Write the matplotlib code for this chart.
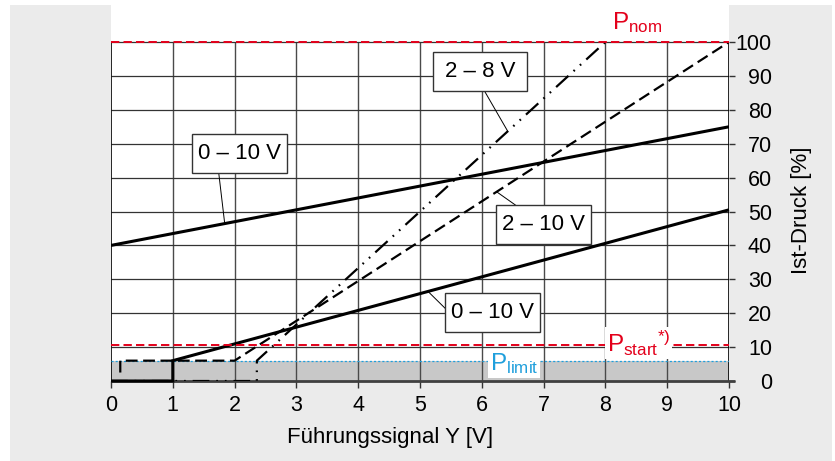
import matplotlib
matplotlib.use('Agg')  # no display available
import matplotlib.pyplot as plt
from matplotlib.patches import Rectangle
import numpy as np

plt.rcParams['font.family'] = 'Liberation Sans'
plt.rcParams['mathtext.fontset'] = 'custom'
plt.rcParams['mathtext.rm'] = 'Liberation Sans'
plt.rcParams['mathtext.it'] = 'Liberation Sans:italic'
plt.rcParams['lines.scale_dashes'] = False

# Kennlinien: Führungssignal Y [V] -> Ist-Druck [%]
y_0_10_upper = [0, 10]
p_0_10_upper = [40, 75]
y_0_10_lower = [0, 1, 1, 10]
p_0_10_lower = [0, 0, 6, 50.5]
y_2_10 = [0.15, 0.15, 2, 10]
p_2_10 = [2.5, 6, 6, 100]
y_2_8 = [0, 2.36, 2.36, 8]
p_2_8 = [0, 0, 6, 100]

# reference pressure levels [%]
P_NOM = 100
P_START = 10.6
P_LIMIT = 6

x_ticks = list(range(0, 11))
p_ticks = list(range(0, 101, 10))

RED = '#e3001b'
BLUE = '#1f9fdc'

fig = plt.figure(figsize=(8.35, 4.61), dpi=100, facecolor='white')
fig.add_artist(Rectangle((10 / 835, 0), 822 / 835, 456 / 461, transform=fig.transFigure,
                         facecolor='#ebebeb', edgecolor='none', zorder=-1))
ax = fig.add_axes([111 / 835, 80 / 461, 618 / 835, 381 / 461])
ax.set_xlim(0, 10)
ax.set_ylim(0, 112.4)
for s in ax.spines.values():
    s.set_visible(False)

# ticks: x below, pressure scale on the right
ax.set_xticks(x_ticks)
ax.set_yticks(p_ticks)
ax.yaxis.tick_right()
ax.tick_params(axis='x', direction='out', length=5, width=1, color='#333333',
               labelsize=15.5, pad=5)
ax.tick_params(axis='y', direction='out', length=4.3, width=1, color='#333333',
               labelsize=15.5, pad=26.6)
for lbl in ax.get_yticklabels():
    lbl.set_horizontalalignment('right')

# grid + frame
ax.fill_between([0, 10], 0, P_LIMIT, color='#c8c8c8', lw=0, zorder=1)
ax.vlines(x_ticks[1:-1], 0, 100, color='#4a4a4a', lw=1.0, zorder=2)
ax.hlines(p_ticks[1:], 0, 10, color='#333333', lw=0.9, zorder=2)
ax.vlines([0, 10], 0, 100, color='black', lw=1.2, zorder=3)
ax.hlines(0, 0, 10.1, color='#404040', lw=2, zorder=3, clip_on=False)

# pressure limits
ax.hlines(P_LIMIT, 0, 10, color=BLUE, lw=0.9, linestyles=(0, (1.5, 1.5)), zorder=3)
ax.hlines([P_NOM, P_START], 0, 10, color=RED, lw=1.4, linestyles=(0, (6, 3)), zorder=6)

# characteristic curves
ax.plot(y_0_10_upper, p_0_10_upper, color='black', lw=2.2, solid_capstyle='butt', zorder=5)
ax.plot(y_0_10_lower, p_0_10_lower, color='black', lw=2.2, solid_capstyle='butt',
        solid_joinstyle='miter', zorder=5, clip_on=False)
ax.plot(y_2_10, p_2_10, color='black', lw=1.6, dashes=(8.5, 4), zorder=5)
ax.plot(y_2_8, p_2_8, color='black', lw=1.6, dashes=(12, 5, 1.2, 5, 1.2, 5), zorder=5)

# boxed curve labels with leader lines
box_w, box_h = 1.53, 11.5
labels = [
    ('0 – 10 V', 2.08, 67.1, (0.28, 0.0), 1.84, y_0_10_upper, p_0_10_upper),
    ('2 – 8 V', 5.97, 91.2, (0.55, 0.0), 6.42, y_2_8, p_2_8),
    ('2 – 10 V', 7.0, 46.2, (0.2, 1.0), 6.24, y_2_10, p_2_10),
    ('0 – 10 V', 6.17, 20.1, (0.0, 0.62), 5.13, y_0_10_lower, p_0_10_lower),
]
for text, cx, cy, (fx, fy), tx, xs, ps in labels:
    x0, y0 = cx - box_w / 2, cy - box_h / 2
    ax.add_patch(Rectangle((x0, y0), box_w, box_h, facecolor='white',
                           edgecolor='#333333', lw=1, zorder=8))
    ax.text(cx, cy, text, ha='center', va='center', fontsize=16, zorder=9)
    ty = np.interp(tx, xs, ps)
    ax.plot([x0 + fx * box_w, tx], [y0 + fy * box_h, ty], color='black', lw=0.7, zorder=7)

# pressure level labels
ax.text(8.1, 103.7, r'$\mathregular{P_{nom}}$', color=RED, fontsize=17.5,
        ha='left', va='baseline', zorder=9)
ax.text(8.02, 8.6, r'$\mathregular{P_{start}{}^{*)}}$', color=RED, fontsize=17.5,
        ha='left', va='baseline', zorder=9,
        bbox=dict(facecolor='white', edgecolor='none', pad=1))
ax.text(6.13, 3.2, r'$\mathregular{P_{limit}}$', color=BLUE, fontsize=17.5,
        ha='left', va='baseline', zorder=9,
        bbox=dict(facecolor='white', edgecolor='none', pad=1))

# axis titles
ax.text(0.4515, -0.147, 'Führungssignal Y [V]', transform=ax.transAxes,
        ha='center', va='center', fontsize=16, clip_on=False)
ax.text(1.118, 0.449, 'Ist-Druck [%]', transform=ax.transAxes, rotation=90,
        ha='center', va='center', fontsize=16, clip_on=False)

fig.savefig('out.png', dpi=100)
